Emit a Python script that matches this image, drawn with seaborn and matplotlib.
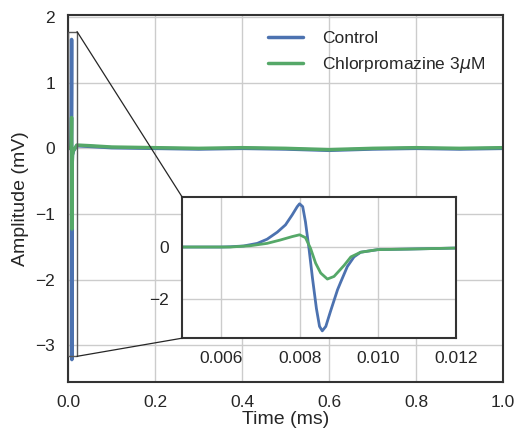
import numpy as np
import pandas as pd
import matplotlib
matplotlib.use("Agg")
import matplotlib.pyplot as plt
from matplotlib.patches import Rectangle, ConnectionPatch
import seaborn as sns

# Traces (time, amplitude)
t_ctrl = [0.0, 0.005, 0.006, 0.00623, 0.00657, 0.00692, 0.00717, 0.00743, 0.00764,
          0.00781, 0.00794, 0.008, 0.00808, 0.00815, 0.00824, 0.00833, 0.00843,
          0.00851, 0.00858, 0.00867, 0.00879, 0.00897, 0.00905, 0.00922, 0.00939,
          0.00956, 0.0100, 0.01076, 0.012, 0.02, 0.05, 0.1, 0.2, 0.3, 0.4, 0.5,
          0.6, 0.7, 0.8, 0.9, 1.0]
v_ctrl = [0.0, 0.0, 0.0, 0.01, 0.04, 0.14, 0.3, 0.57, 0.85,
          1.23, 1.55, 1.66, 1.55, 0.97, -0.05, -1.2, -2.36,
          -3.05, -3.22, -3.05, -2.47, -1.64, -1.35, -0.75, -0.38,
          -0.2, -0.1, -0.08, -0.04, 0.04, 0.03, 0.01, 0.0, -0.01, 0.0, -0.01,
          -0.03, -0.01, 0.0, -0.01, 0.0]

t_cpz = [0.0, 0.005, 0.00623, 0.00674, 0.00717, 0.00751, 0.00781, 0.008, 0.00815,
         0.00828, 0.00841, 0.00854, 0.00871, 0.00888, 0.00905, 0.00914, 0.00931,
         0.00956, 0.0100, 0.01076, 0.012, 0.02, 0.05, 0.1, 0.2, 0.3, 0.4, 0.5,
         0.6, 0.7, 0.8, 0.9, 1.0]
v_cpz = [0.0, 0.0, 0.0, 0.05, 0.14, 0.27, 0.4, 0.47, 0.36,
         -0.05, -0.62, -1.0, -1.23, -1.13, -0.85, -0.7, -0.38,
         -0.2, -0.1, -0.08, -0.04, 0.05, 0.04, 0.02, 0.01, 0.0, 0.01, 0.0,
         -0.02, 0.0, 0.01, 0.0, 0.01]

labels = ["Control", "Chlorpromazine 3$\\mu$M"]

df = pd.concat([
    pd.DataFrame({"time": t_ctrl, "amp": v_ctrl, "cond": labels[0]}),
    pd.DataFrame({"time": t_cpz, "amp": v_cpz, "cond": labels[1]}),
], ignore_index=True)

sns.set_theme(style="whitegrid", palette="deep")
plt.rcParams["font.family"] = ["Liberation Sans", "DejaVu Sans"]
plt.rcParams.update({"axes.edgecolor": "0.2", "axes.linewidth": 1.5,
                     "grid.color": "0.8"})
colors = sns.color_palette("deep")
pal = {labels[0]: colors[0], labels[1]: colors[2]}

fig = plt.figure(figsize=(5.16, 4.33), dpi=100)
ax = fig.add_axes([0.132, 0.118, 0.843, 0.847])
sns.lineplot(data=df, x="time", y="amp", hue="cond", palette=pal, lw=2.5,
             sort=False, estimator=None, ax=ax)
ax.set_xlim(0, 1.0)
ax.set_ylim(-3.56, 2.03)
ax.set_yticks([-3, -2, -1, 0, 1, 2])
ax.set_xlabel("Time (ms)", fontsize=14, labelpad=1)
ax.set_ylabel("Amplitude (mV)", fontsize=14)
ax.tick_params(labelsize=12.5)
ax.legend(loc="upper right", frameon=False, fontsize=12.5,
          bbox_to_anchor=(0.995, 1.0), handlelength=2.0, handletextpad=1.1)

# zoom box and inset
rx0, rx1, ry0, ry1 = 0.0, 0.0205, -3.17, 1.78
ax.add_patch(Rectangle((rx0, ry0), rx1 - rx0, ry1 - ry0, fill=False,
                       ec="0.35", lw=1, zorder=5))

axin = fig.add_axes([0.353, 0.219, 0.531, 0.326])
sns.lineplot(data=df, x="time", y="amp", hue="cond", palette=pal, lw=2,
             sort=False, estimator=None, ax=axin, legend=False)
axin.set_xlim(0.005, 0.012)
axin.set_ylim(-3.5, 1.92)
axin.set_xticks([0.006, 0.008, 0.010, 0.012])
axin.set_xticklabels(["0.006", "0.008", "0.010", "0.012"])
axin.set_yticks([-2, 0])
axin.set_xlabel("")
axin.set_ylabel("")
axin.tick_params(labelsize=12.5)

for (xa, ya), (xb, yb) in [((rx1, ry1), (0, 1)), ((rx1, ry0), (0, 0))]:
    con = ConnectionPatch(xyA=(xa, ya), coordsA=ax.transData,
                          xyB=(xb, yb), coordsB=axin.transAxes,
                          color="0.15", lw=0.9)
    fig.add_artist(con)

fig.savefig("out.png", dpi=100)
